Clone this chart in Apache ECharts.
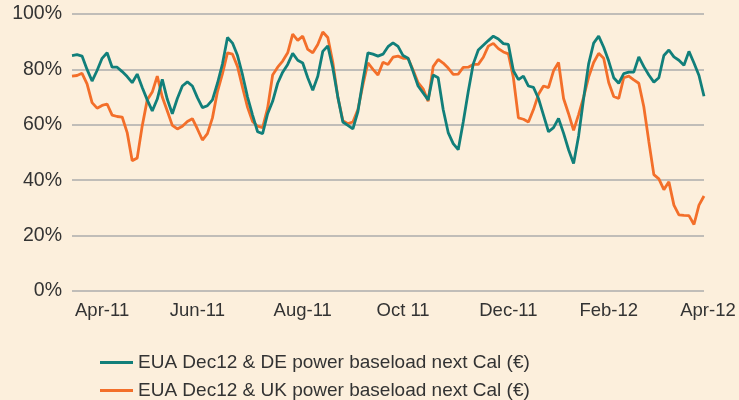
<!DOCTYPE html>
<html>
<head>
<meta charset="utf-8">
<script src="https://cdn.jsdelivr.net/npm/echarts@6/dist/echarts.min.js"></script>
<style>
  html, body { margin: 0; padding: 0; background: #fcefdc; }
  #chart { width: 739px; height: 400px; }
</style>
</head>
<body>
<div id="chart"></div>
<script>
// correlation, % (roughly every 3 days from mid-Mar 2011)
const deCorr = [
  85.0, 85.3, 84.8, 80.0, 75.8, 79.6, 84.0, 86.0, 80.8, 80.8,
  79.2, 77.4, 75.2, 78.3, 73.5, 69.0, 65.0, 69.3, 76.4, 69.2,
  64.0, 69.5, 74.0, 75.5, 74.0, 69.8, 66.2, 66.9, 69.0, 75.0,
  82.0, 91.5, 89.5, 85.0, 78.0, 70.0, 63.5, 57.5, 56.8, 64.0,
  68.5, 75.0, 79.0, 81.8, 85.8, 83.3, 82.3, 77.0, 72.5, 77.5,
  86.5, 88.5, 80.5, 70.0, 61.0, 59.8, 58.5, 64.8, 76.0, 86.0,
  85.5, 84.8, 85.5, 88.2, 89.6, 88.3, 85.0, 84.0, 79.2, 74.0,
  71.5, 69.0, 78.0, 77.0, 65.5, 57.2, 53.2, 51.0, 61.0, 72.0,
  82.0, 87.0, 88.7, 90.4, 92.0, 91.0, 89.3, 89.0, 79.5, 76.3,
  77.6, 74.0, 73.5, 69.5, 63.5, 57.5, 59.0, 62.3, 57.0, 51.0,
  46.0, 56.0, 69.5, 82.0, 89.5, 92.0, 88.0, 83.0, 77.0, 75.0,
  78.5, 79.0, 79.0, 84.5, 81.0, 78.0, 75.4, 77.0, 85.0, 87.0,
  84.5, 83.3, 81.5, 86.5, 82.3, 77.8, 70.3
];
const ukCorr = [
  77.6, 77.8, 78.6, 74.8, 68.0, 66.0, 67.0, 67.5, 63.5, 63.0,
  62.8, 57.2, 47.0, 48.0, 59.6, 69.0, 71.8, 77.6, 70.0, 65.0,
  59.8, 58.5, 59.5, 61.2, 62.2, 58.5, 54.5, 56.8, 62.5, 72.0,
  78.5, 86.0, 85.5, 81.0, 73.5, 66.3, 61.2, 59.5, 59.0, 66.0,
  78.0, 80.8, 83.0, 86.0, 92.7, 90.5, 92.0, 87.2, 86.0, 89.0,
  93.5, 91.5, 82.5, 70.0, 61.5, 60.4, 61.0, 65.5, 74.5, 82.4,
  80.0, 78.0, 82.6, 81.8, 84.4, 84.8, 84.0, 84.0, 79.8, 75.2,
  73.0, 68.5, 81.0, 83.6, 82.3, 80.5, 78.2, 78.3, 80.7, 80.8,
  81.8, 81.8, 84.4, 88.4, 89.4, 87.5, 86.3, 85.6, 77.0, 62.5,
  62.0, 61.0, 65.5, 71.0, 74.0, 73.4, 79.5, 82.5, 69.5, 64.0,
  58.0, 63.7, 70.0, 77.2, 82.5, 85.8, 84.0, 75.3, 70.2, 69.5,
  77.0, 77.6, 76.2, 75.0, 66.5, 54.0, 42.0, 40.5, 36.6, 39.4,
  31.0, 27.5, 27.3, 27.2, 24.0, 31.0, 34.3
];
const tickLabels = ['Apr-11', 'Jun-11', 'Aug-11', 'Oct 11', 'Dec-11', 'Feb-12', 'Apr-12'];
const tickIndex = [6, 25, 46, 66, 87, 107, 126];
const seriesNames = [
  'EUA Dec12 & DE power baseload next Cal (€)',
  'EUA Dec12 & UK power baseload next Cal (€)'
];

const categories = deCorr.map((_, i) => String(i));

const font = '"Liberation Sans", Arial, sans-serif';
const textColor = '#333';
const chart = echarts.init(document.getElementById('chart'));

// one legend block per row, stacked
const legendRow = (name, top) => ({
  left: 95,
  top,
  itemWidth: 33,
  itemHeight: 3,
  icon: 'rect',
  data: [name],
  textStyle: { fontFamily: font, fontSize: 19, color: textColor }
});

chart.setOption({
  animation: false,
  backgroundColor: '#fcefdc',
  color: ['#117f7a', '#f36f2a'],
  grid: { left: 72, right: 35, top: 14, bottom: 109 },
  legend: [legendRow(seriesNames[0], 348), legendRow(seriesNames[1], 376)],
  xAxis: {
    type: 'category',
    data: categories,
    boundaryGap: false,
    axisLine: { show: false },
    axisTick: { show: false },
    splitLine: { show: false },
    axisLabel: {
      interval: (idx) => tickIndex.includes(idx),
      formatter: (val, idx) => {
        const k = tickIndex.indexOf(idx);
        return k === tickLabels.length - 1 ? '{last|' + tickLabels[k] + '}' : tickLabels[k];
      },
      rich: { last: { padding: [0, 0, 0, 8], fontFamily: font, fontSize: 18.5, color: textColor } },
      margin: 10,
      fontFamily: font,
      fontSize: 18.5,
      color: textColor
    }
  },
  yAxis: {
    type: 'value',
    min: 0,
    max: 100,
    interval: 20,
    axisLine: { show: false },
    axisTick: { show: false },
    splitLine: { lineStyle: { color: '#adadad', width: 1.5 } },
    axisLabel: {
      formatter: '{value}%',
      margin: 10,
      fontFamily: font,
      fontSize: 19.5,
      color: textColor
    }
  },
  series: [
    {
      name: seriesNames[0],
      type: 'line',
      data: deCorr,
      z: 3,
      showSymbol: false,
      lineStyle: { width: 2.8 }
    },
    {
      name: seriesNames[1],
      type: 'line',
      data: ukCorr,
      z: 2,
      showSymbol: false,
      lineStyle: { width: 2.8 }
    }
  ]
});
</script>
</body>
</html>
